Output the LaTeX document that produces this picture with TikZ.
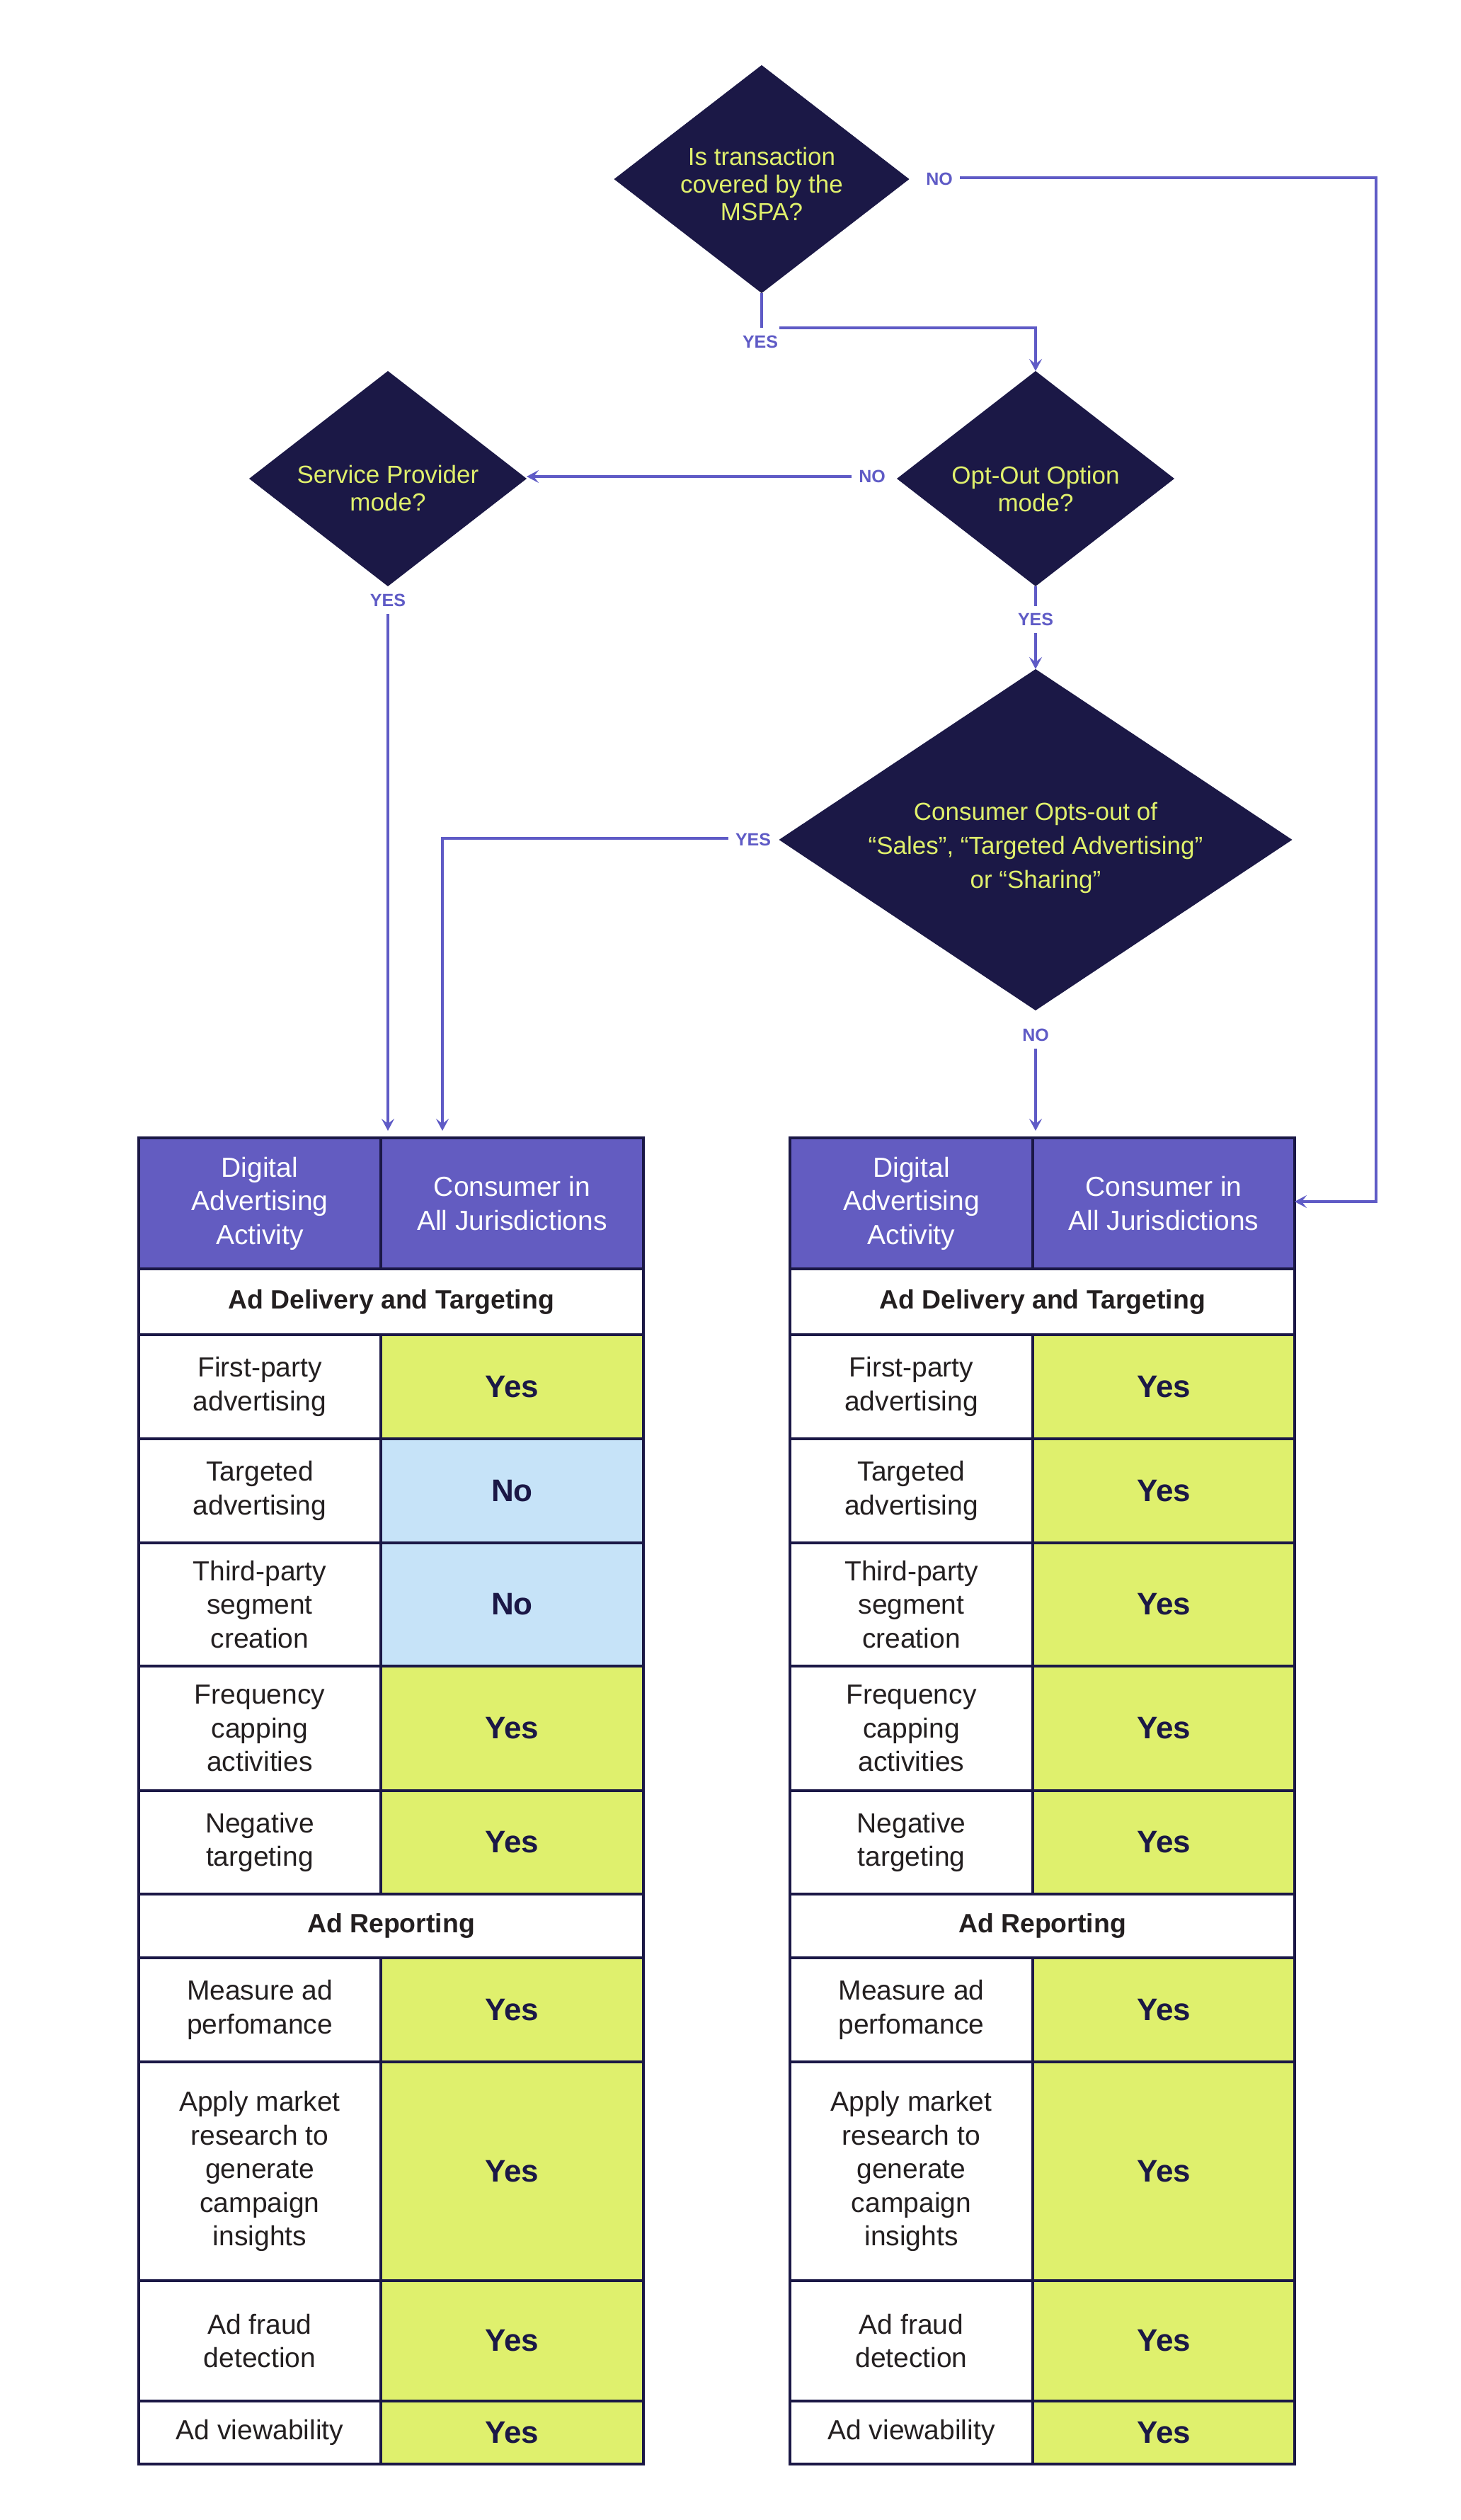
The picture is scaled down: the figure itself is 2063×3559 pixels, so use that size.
\documentclass[tikz,border=0pt]{standalone}
\usepackage{fontspec}
\setmainfont{Liberation Sans}
\usetikzlibrary{shapes.geometric,arrows.meta}
\definecolor{navy}{HTML}{1B1846}
\definecolor{dtxt}{HTML}{E0F06C}
\definecolor{conn}{HTML}{5F5BC6}
\definecolor{hdrc}{HTML}{635CC1}
\definecolor{lime}{HTML}{DFF06D}
\definecolor{lblue}{HTML}{C6E3F8}
\definecolor{dark}{HTML}{231F20}
\newcommand\fsz[2]{\fontsize{#1}{#2}\selectfont}
\newcommand\cellbox[7]{\node[#6,anchor=north west,minimum width={(#4-#2)*0.5pt},minimum height={(#5-#3)*0.5pt}] (#1) at (#2,#3) {#7};}
\newcommand\trow[9]{\cellbox{#1a}{#2}{#5}{#3}{#6}{act}{#7}\cellbox{#1v}{#3}{#5}{#4}{#6}{#8}{#9}}
\begin{document}
\begin{tikzpicture}[x=0.5pt,y=-0.5pt,
  dia/.style={diamond,fill=navy,draw=none,inner sep=0pt,outer sep=0pt},
  dtext/.style={text=dtxt,align=center,font=\fsz{17.5}{19.5}},
  lbl/.style={text=conn,font=\bfseries\fsz{12.5}{15},inner sep=5pt},
  cline/.style={draw=conn,line width=1.6pt},
  arr/.style={cline,-{Stealth[length=8.5pt,width=9pt,inset=3.5pt]}},
  cellbase/.style={draw=navy,line width=2pt,inner sep=0pt,outer sep=0pt,align=center},
  hdr/.style={cellbase,fill=hdrc,text=white,font=\fsz{19.5}{23.75}},
  sec/.style={cellbase,fill=white,text=dark,font=\bfseries\fsz{18.7}{22}},
  act/.style={cellbase,fill=white,text=dark,font=\fsz{19.5}{23.75}},
  yes/.style={cellbase,fill=lime,text=navy,font=\bfseries\fsz{22}{26}},
  no/.style={cellbase,fill=lblue,text=navy,font=\bfseries\fsz{22}{26}}]
\useasboundingbox (0,0) rectangle (2063,3559);
\fill[white] (0,0) rectangle (2063,3559);

% diamonds
\node[dia,minimum width=208.5pt,minimum height=161pt] (d1) at (1076,253) {};
\node[dtext] (d1t) at (1076,260) {Is transaction\\covered by the\\MSPA?};
\node[dia,minimum width=196pt,minimum height=152pt] (d2) at (1463,676) {};
\node[dtext] (d2t) at (1463,690) {Opt-Out Option\\mode?};
\node[dia,minimum width=196pt,minimum height=152pt] (d3) at (548,676) {};
\node[dtext] (d3t) at (548,689) {Service Provider\\mode?};
\node[dia,minimum width=362.5pt,minimum height=241pt] (d4) at (1463,1186) {};
\node[dtext,font=\fsz{17.5}{24}] (d4t) at (1463,1197) {Consumer Opts-out of\\“Sales”, “Targeted Advertising”\\or “Sharing”};

% labels
\node[lbl] (y1) at (1074,483) {YES};
\node[lbl] (n1) at (1327,253) {NO};
\node[lbl] (n2) at (1232,673) {NO};
\node[lbl] (y2) at (1463,875) {YES};
\node[lbl] (y3) at (548,848) {YES};
\node[lbl] (y4) at (1064,1186) {YES};
\node[lbl] (n4) at (1463,1462) {NO};

% left table
\cellbox{lh1}{196}{1607}{538}{1792}{hdr}{Digital\\Advertising\\Activity}
\cellbox{lh2}{538}{1607}{909}{1792}{hdr}{Consumer in\\All Jurisdictions}
\cellbox{ls1}{196}{1792}{909}{1885}{sec}{Ad Delivery and Targeting}
\trow{L1}{196}{538}{909}{1885}{2032}{First-party\\advertising}{yes}{Yes}
\trow{L2}{196}{538}{909}{2032}{2179}{Targeted\\advertising}{no}{No}
\trow{L3}{196}{538}{909}{2179}{2353}{Third-party\\segment\\creation}{no}{No}
\trow{L4}{196}{538}{909}{2353}{2529}{Frequency\\capping\\activities}{yes}{Yes}
\trow{L5}{196}{538}{909}{2529}{2675}{Negative\\targeting}{yes}{Yes}
\cellbox{ls2}{196}{2675}{909}{2765}{sec}{Ad Reporting}
\trow{L6}{196}{538}{909}{2765}{2912}{Measure ad\\perfomance}{yes}{Yes}
\trow{L7}{196}{538}{909}{2912}{3221}{Apply market\\research to\\generate\\campaign\\insights}{yes}{Yes}
\trow{L8}{196}{538}{909}{3221}{3391}{Ad fraud\\detection}{yes}{Yes}
\trow{L9}{196}{538}{909}{3391}{3480}{Ad viewability}{yes}{Yes}

% right table
\cellbox{rh1}{1116}{1607}{1459}{1792}{hdr}{Digital\\Advertising\\Activity}
\cellbox{rh2}{1459}{1607}{1829}{1792}{hdr}{Consumer in\\All Jurisdictions}
\cellbox{rs1}{1116}{1792}{1829}{1885}{sec}{Ad Delivery and Targeting}
\trow{R1}{1116}{1459}{1829}{1885}{2032}{First-party\\advertising}{yes}{Yes}
\trow{R2}{1116}{1459}{1829}{2032}{2179}{Targeted\\advertising}{yes}{Yes}
\trow{R3}{1116}{1459}{1829}{2179}{2353}{Third-party\\segment\\creation}{yes}{Yes}
\trow{R4}{1116}{1459}{1829}{2353}{2529}{Frequency\\capping\\activities}{yes}{Yes}
\trow{R5}{1116}{1459}{1829}{2529}{2675}{Negative\\targeting}{yes}{Yes}
\cellbox{rs2}{1116}{2675}{1829}{2765}{sec}{Ad Reporting}
\trow{R6}{1116}{1459}{1829}{2765}{2912}{Measure ad\\perfomance}{yes}{Yes}
\trow{R7}{1116}{1459}{1829}{2912}{3221}{Apply market\\research to\\generate\\campaign\\insights}{yes}{Yes}
\trow{R8}{1116}{1459}{1829}{3221}{3391}{Ad fraud\\detection}{yes}{Yes}
\trow{R9}{1116}{1459}{1829}{3391}{3480}{Ad viewability}{yes}{Yes}

% connectors
\coordinate (c1a) at (1076,463);
\coordinate (c1b) at (1101,463);
\draw[cline] (d1.south) -- (c1a);
\draw[arr] (c1b) -| (d2.north);
\coordinate (k1) at (1944,1697);
\draw[arr] (n1.east |- 0,251) -| (k1) -- (rh2.east |- k1);
\draw[arr] (n2.west) -- (n2.west -| d3.east);
\draw[cline] (d2.south) -- (y2.north);
\draw[arr] (y2.south) -- (d4.north);
\coordinate (k3) at (548,1597);
\draw[arr] (y3.south) -- (k3);
\coordinate (k4) at (625,1597);
\draw[arr] (y4.west |- 0,1184) -| (k4);
\coordinate (k5) at (1463,1597);
\draw[arr] (n4.south) -- (k5);
\end{tikzpicture}
\end{document}
